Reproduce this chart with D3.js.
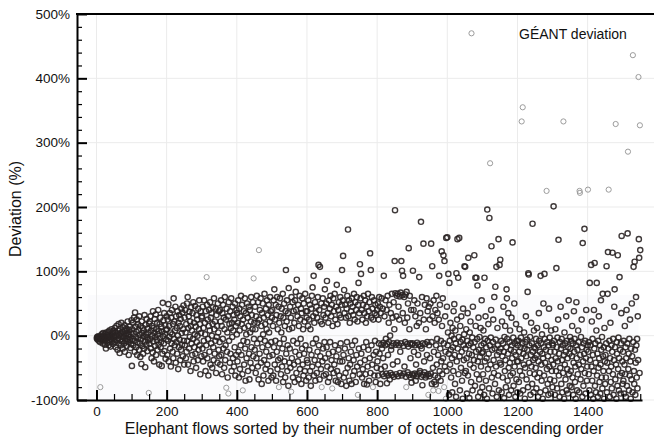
<!DOCTYPE html>
<html>
<head>
<meta charset="utf-8">
<script src="https://cdn.jsdelivr.net/npm/d3@7"></script>
<style>
  body { margin: 0; background: #fff; }
  svg text { font-family: "Liberation Sans", Arial, Helvetica, sans-serif; fill: #111; }
</style>
</head>
<body>
<svg id="chart" width="654" height="445"></svg>
<script>
// deviation (%) of each elephant flow, 50 flows (by rank) per row
const deviationBlocks = [
  [-4,-2,-6,-3,-1,-5,-8,-3,-2,-10,-80,-4,-6,-1,2,-7,-3,-12,4,-5,-9,0,-2,-14,3,-6,-20,5,-4,-8,1,-11,-3,6,-15,-2,8,-7,-1,-17,2,-5,10,-9,-3,4,-13,7,-6,0],
  [-2,12,-10,5,-18,0,15,-7,3,-22,8,-4,18,-12,1,-27,10,-6,4,-15,20,-1,-9,6,-20,13,-3,2,-12,16,-25,7,-8,0,11,-16,4,-5,22,-10,2,-30,9,-2,14,-7,-19,5,-13,24],
  [-47,10,-5,20,-15,3,28,-8,-25,36,14,-2,-18,6,25,-30,-10,18,-4,9,-22,30,1,-12,-33,15,-6,-44,22,4,-16,12,-28,-1,8,-20,32,-9,-49,17,2,-14,26,-3,-24,11,-7,5,-89,19],
  [-12,22,-5,30,-20,8,-35,15,0,-26,38,-9,12,-40,4,26,-16,-2,33,-30,10,-7,20,-22,2,40,-14,7,-45,18,-4,28,-18,-10,14,-47,6,-28,51,-1,24,-12,35,-24,3,16,-36,9,-6,30],
  [10,-30,25,-8,49,-40,15,-2,35,-20,5,-48,28,-12,40,2,-25,18,-35,58,-5,22,-15,8,45,-42,30,-10,12,-28,38,0,-52,20,-18,32,-6,15,-38,26,-22,42,4,-14,36,-32,10,47,-8,-45],
  [28,-15,40,5,-35,18,-25,50,-8,60,-45,12,30,-20,37,-2,22,-55,15,44,-12,8,-30,35,-5,52,-40,20,-18,2,46,-28,14,-50,32,-10,25,0,-38,42,-22,10,55,-15,18,-60,38,4,-32,28],
  [30,-20,45,-40,12,-8,55,-30,20,2,-55,38,-15,91,48,-35,25,-5,-62,15,40,-25,8,52,-45,28,-12,35,0,-50,18,44,-18,-38,58,10,-28,22,-8,42,-58,32,-2,15,-42,50,5,-22,38,-32],
  [-10,40,-45,22,55,-30,15,-60,35,-5,48,-20,28,-50,10,60,-38,-15,25,-81,42,-25,5,-65,30,-90,52,-8,18,-42,38,-28,12,58,-55,20,-2,45,-35,8,32,-48,25,-18,50,-62,15,-30,40,2],
  [35,-40,20,55,-25,-65,42,8,-52,30,-15,62,-30,18,48,-60,-85,25,-8,38,-45,12,58,-20,-70,35,2,-35,50,-10,28,-55,15,45,-28,-68,40,5,-42,22,60,-18,32,-50,10,52,-32,89,-5,20],
  [-22,45,10,-58,30,-35,62,-12,20,-48,52,-68,133,25,-28,40,-5,58,-42,15,-75,35,-18,50,2,-62,28,-38,65,-8,18,-52,42,-25,10,55,-45,32,-15,-70,48,5,-32,22,60,-55,38,-10,-65,28],
  [40,-30,15,-62,55,-18,72,-45,25,-8,48,-70,32,-25,60,-52,10,-38,45,-80,20,-12,58,-35,30,-60,5,42,-48,-20,65,-72,28,-5,50,-40,15,-65,38,102,-28,22,55,-55,-15,35,-78,74,10,-42],
  [-20,45,-50,28,-87,60,-35,12,52,-65,-8,38,-45,20,-72,55,-25,68,40,-58,87,-12,30,-40,48,-68,15,-30,62,-52,25,-5,42,-75,35,-20,58,-45,10,-62,50,-28,22,-55,65,-15,38,-70,28,-38],
  [38,-42,15,55,-65,25,-22,48,-55,10,-78,42,-30,62,-48,75,-12,30,93,-62,20,-38,52,-70,35,-5,45,-58,28,-25,60,-45,110,-15,40,-68,107,-32,22,-52,50,-80,18,-40,58,-20,32,-62,45,-10],
  [72,-35,28,-60,50,-18,85,-48,35,-72,20,-28,55,-65,42,-10,62,-52,30,-38,48,-82,15,-25,58,-58,38,-45,65,-15,25,-70,45,-32,79,-55,18,-72,40,-22,52,-62,32,-40,60,-12,28,-75,48,102],
  [-40,55,124,-30,-65,71,35,-20,48,-58,28,-78,42,-10,62,-50,165,30,-35,55,-70,20,-45,50,-25,38,-75,58,-15,45,-62,32,-38,65,-55,25,-8,52,-72,40,-30,60,-48,22,-92,48,82,-20,35,-60],
  [111,-42,58,96,-28,40,-65,25,-52,48,-18,62,-75,35,-38,55,-60,20,-10,45,-76,30,-48,65,-22,38,-70,52,-35,128,-58,102,28,-15,60,-45,42,-80,25,-30,55,-62,35,-8,48,-72,-25,32,-50,40],
  [-40,50,-62,25,-12,60,-28,45,-75,35,-52,-14,58,-20,-60,42,-35,-11,93,-63,30,-48,-15,55,-5,-59,40,-74,-13,62,-30,-62,20,-10,48,-68,0,-58,35,-22,-16,65,-61,28,-45,-12,52,-64,10,116],
  [195,66,-14,-60,30,62,-11,-40,65,-63,45,-15,25,61,-58,-25,67,-12,116,-62,101,63,35,93,-16,-59,60,-48,20,-10,64,-64,-80,68,-13,28,-57,50,-17,136,-61,10,62,-12,-35,-65,40,-73,-14,-60],
  [-12,101,-62,40,-25,55,-59,-15,30,-70,-45,-63,15,-11,50,-60,-30,-14,20,91,-58,-55,35,-16,177,-64,-20,60,-77,-12,-61,143,25,-40,-57,48,-13,-65,10,-62,58,-30,-10,38,-60,-92,45,-15,-63,25],
  [-35,50,-59,143,-10,-75,108,30,-50,-85,55,-25,-72,20,-62,40,-76,-15,62,-45,-5,35,-65,-30,-86,25,93,-55,48,-20,-70,-8,-40,131,15,-60,58,-35,125,-12,-80,116,-48,30,-25,-98,152,-55,45,153],
  [-15,5,96,-28,-92,82,-8,-45,20,-22,-65,0,-35,-88,12,-18,-55,38,-5,49,-30,-75,8,-12,-95,97,-40,25,150,-20,90,-60,-2,152,-32,-85,15,-10,-50,30,-25,-70,-6,-98,42,-15,-38,2,108,-58],
  [107,-20,-55,10,-35,-90,-8,35,-62,121,-15,-28,-97,5,-45,22,-12,-72,470,-30,-3,-85,45,-18,-50,-38,125,-10,-78,90,15,-25,90,-60,-5,78,-40,-95,28,-22,-68,-2,-33,-88,12,-48,-15,55,-27,-80],
  [-25,-60,8,-12,-92,90,-40,-5,30,-70,-18,-35,-98,196,-8,-52,18,-28,-82,183,-15,268,-45,-3,40,139,-65,-22,-90,-10,25,-38,-58,60,-20,-75,76,-6,-48,107,-95,-30,12,-15,-62,150,-85,-25,110,-42],
  [118,-20,-45,-8,-88,22,-32,-65,-12,45,-25,-97,-2,-55,15,-38,-80,-18,72,58,-5,-70,-28,35,-50,-92,-10,-42,8,-62,-22,-85,28,-15,-35,145,-58,-3,-78,-25,50,-48,-12,-95,-30,18,-68,-8,-40,-88],
  [-15,-40,-8,-72,-25,10,-55,-90,-18,-3,-35,333,-62,-12,355,-85,-28,-45,5,-20,-98,-50,-10,30,-32,-68,-6,-22,68,-80,97,95,-42,-15,-58,-2,-92,-30,20,-48,-12,-75,174,-25,-38,-88,8,-18,-60,-35],
  [-20,-50,-5,-82,-30,12,-65,-15,-95,-40,35,-8,-58,-25,-88,93,-12,-45,-70,2,-28,-98,-35,50,-18,-62,96,-5,-42,-85,-22,15,225,-52,-10,-75,-32,-92,-15,42,-48,-3,-68,-25,-90,8,-38,-55,-12,-80],
  [-15,-45,201,-8,-70,-25,-92,10,-35,-55,105,-18,-82,-3,-40,25,149,-62,-28,-95,-10,-50,45,-20,-75,-5,-38,-88,-15,-58,333,-30,-98,5,-45,-12,-68,-25,30,-85,-8,-52,-35,-90,-18,55,-60,-28,-78,-2],
  [-20,-55,-8,-80,-32,15,-65,-12,-92,-42,38,-25,-5,-72,-48,-98,-15,52,-35,-85,-22,-60,8,-10,-45,-88,225,222,-30,-68,-2,-52,25,-18,-95,144,-40,-78,-12,-28,166,-58,-8,-90,-35,40,-22,-70,-48,-15],
  [227,-25,-60,-10,-85,82,-38,-15,-92,110,-48,22,-70,-5,-30,-98,-55,40,-20,113,-78,-12,-42,-88,8,82,-62,-28,-95,-8,-50,30,-35,-72,-15,-90,-45,55,-22,-65,-2,-82,65,-32,-55,-18,-98,12,-40,-75],
  [-30,-65,-12,108,-88,-42,65,130,-20,227,-55,-8,-95,-35,20,-72,-48,-15,-82,-25,129,-60,-5,-92,-38,45,72,-18,-68,329,-45,-98,-10,-28,-78,125,-52,-3,-85,-35,91,-62,-22,-90,-12,35,155,-58,-40,-75],
  [-25,-70,-8,-90,-45,15,-60,-18,-95,-35,40,-78,-12,159,286,-52,-28,-85,-5,-62,25,-40,-98,-20,-68,50,-32,-88,436,-10,107,-55,-75,115,-22,-92,-42,60,-15,-65,-5,-82,30,-38,402,150,121,-58,327,133]
];
const blockSize = 50;

const xTicks = [0, 200, 400, 600, 800, 1000, 1200, 1400];
const yTicks = [-100, 0, 100, 200, 300, 400, 500];
const xTitle = "Elephant flows sorted by their number of octets in descending order";
const yTitle = "Deviation (%)";
const legendLabel = "GÉANT deviation";

const W = 654, H = 445;
const m = { left: 77, right: 642, top: 14, bottom: 400 };

const svg = d3.select("#chart");

const x = d3.scaleLinear().domain([-55.5, 1555]).range([m.left, m.right]);
const y = d3.scaleLinear().domain([-100, 500]).range([m.bottom, m.top]);

let flows = [];
deviationBlocks.forEach((row, b) => {
  row.forEach((v, i) => flows.push({ rank: b * blockSize + i + 1, dev: v }));
});

// faint light points are the ones drawn outside the dense band
function isFaint(d) {
  return d.dev > 210 || (d.rank < 1000 && d.dev < -78) || (d.rank < 500 && d.dev > 85);
}

// faint backdrop under the dense band
svg.append("rect")
  .attr("x", x(-25)).attr("y", y(63))
  .attr("width", x(1545) - x(-25)).attr("height", m.bottom - y(63))
  .attr("fill", "#fbfbfd");

// grid
let grid = svg.append("g").attr("stroke", "#ebebeb").attr("stroke-width", 1);
grid.selectAll(".gx").data(xTicks).enter().append("line")
  .attr("x1", d => x(d)).attr("x2", d => x(d))
  .attr("y1", m.top).attr("y2", m.bottom);
grid.selectAll(".gy").data(yTicks).enter().append("line")
  .attr("x1", m.left).attr("x2", W)
  .attr("y1", d => y(d)).attr("y2", d => y(d));

// points
let pts = svg.append("g");
pts.selectAll(".faint").data(flows.filter(isFaint)).enter().append("circle")
  .attr("cx", d => x(d.rank)).attr("cy", d => y(d.dev)).attr("r", 2.6)
  .attr("fill", "none").attr("stroke", "#9c9c9c").attr("stroke-width", 1);
pts.selectAll(".dark").data(flows.filter(d => !isFaint(d))).enter().append("circle")
  .attr("cx", d => x(d.rank)).attr("cy", d => y(d.dev)).attr("r", 2.6)
  .attr("fill", "none").attr("stroke", "#2a2323").attr("stroke-width", 1.4)
  .attr("stroke-opacity", 0.9);

// y axis
let yMinor = d3.range(-100, 501, 20).filter(v => !yTicks.includes(v));
svg.append("g").attr("transform", `translate(${m.left},0)`)
  .call(d3.axisLeft(y).tickValues(yMinor).tickSize(-5).tickFormat(""))
  .call(g => g.select(".domain").remove())
  .call(g => g.selectAll(".tick line").attr("stroke", "#000").attr("stroke-width", 1.2));
svg.append("g").attr("transform", `translate(${m.left},0)`)
  .call(d3.axisLeft(y).tickValues(yTicks).tickSize(-10).tickSizeOuter(0).tickPadding(7).tickFormat(d => d + "%"))
  .call(g => g.select(".domain").attr("stroke", "#000").attr("stroke-width", 2))
  .call(g => g.selectAll(".tick line").attr("stroke", "#000").attr("stroke-width", 2))
  .call(g => g.selectAll("text").style("font-size", "13.5px").attr("fill", "#111"));

// x axis
let xMinor = d3.range(50, 1551, 50).filter(v => !xTicks.includes(v));
svg.append("g").attr("transform", `translate(0,${m.bottom})`)
  .call(d3.axisBottom(x).tickValues(xMinor).tickSize(-6).tickFormat(""))
  .call(g => g.select(".domain").remove())
  .call(g => g.selectAll(".tick line").attr("stroke", "#000").attr("stroke-width", 1.2));
svg.append("g").attr("transform", `translate(0,${m.bottom})`)
  .call(d3.axisBottom(x).tickValues(xTicks).tickSize(-10).tickSizeOuter(0).tickPadding(6.5).tickFormat(d3.format("d")))
  .call(g => g.select(".domain").attr("stroke", "#000").attr("stroke-width", 2))
  .call(g => g.selectAll(".tick line").attr("stroke", "#000").attr("stroke-width", 2))
  .call(g => g.selectAll("text").style("font-size", "13.5px").attr("fill", "#111"));

// top border
svg.append("line")
  .attr("x1", m.left - 1).attr("x2", W).attr("y1", m.top).attr("y2", m.top)
  .attr("stroke", "#000").attr("stroke-width", 2);

// titles
svg.append("text")
  .attr("x", 364).attr("y", 434).attr("text-anchor", "middle")
  .style("font-size", "16px").text(xTitle);
svg.append("text")
  .attr("transform", `translate(21,209) rotate(-90)`).attr("text-anchor", "middle")
  .style("font-size", "16px").text(yTitle);

// legend
svg.append("text")
  .attr("x", 519).attr("y", 39)
  .style("font-size", "14px").text(legendLabel);
</script>
</body>
</html>
